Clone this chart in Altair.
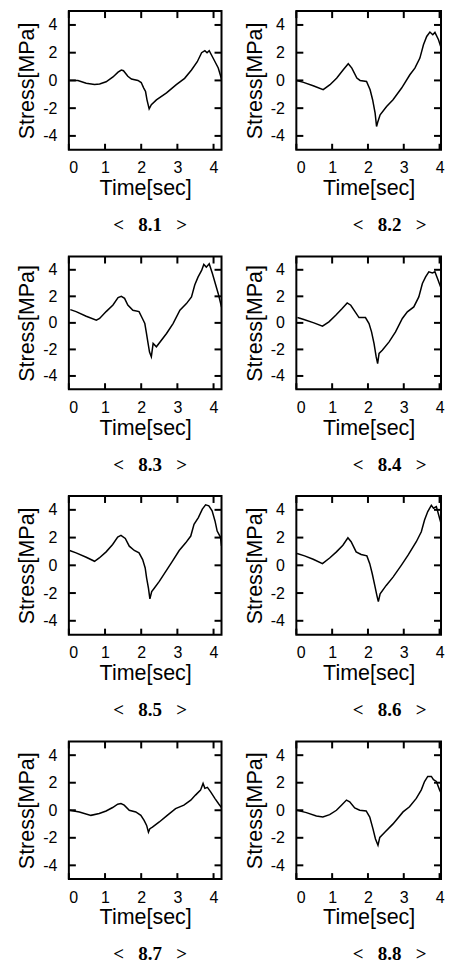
import altair as alt
import pandas as pd

# ---- data (time in sec, stress in MPa) ----
T_8_1 = [0.02, 0.25, 0.48, 0.71, 0.85, 1.03, 1.22, 1.36, 1.45, 1.51, 1.63, 1.73, 1.91, 2.00, 2.07, 2.12, 2.16, 2.22, 2.28, 2.42, 2.70, 2.97, 3.20, 3.39, 3.55, 3.67, 3.76, 3.82, 3.88, 3.99, 4.13, 4.22]
S_8_1 = [0.0, 0.0, -0.2, -0.3, -0.25, -0.1, 0.25, 0.6, 0.75, 0.7, 0.3, 0.1, 0.0, -0.15, -0.55, -0.8, -1.4, -2.05, -1.75, -1.4, -0.9, -0.3, 0.15, 0.75, 1.35, 2.0, 2.15, 2.0, 2.15, 1.6, 0.9, 0.1]

T_8_2 = [0.01, 0.20, 0.47, 0.75, 0.94, 1.13, 1.31, 1.45, 1.55, 1.69, 1.78, 1.96, 2.06, 2.13, 2.20, 2.24, 2.27, 2.34, 2.52, 2.70, 2.94, 3.17, 3.31, 3.45, 3.55, 3.64, 3.73, 3.81, 3.87, 3.97, 4.06, 4.15, 4.22]
S_8_2 = [0.0, -0.14, -0.38, -0.67, -0.31, 0.17, 0.77, 1.2, 0.89, 0.17, 0.0, -0.07, -0.67, -1.39, -2.36, -3.32, -3.03, -2.48, -1.88, -1.39, -0.55, 0.41, 0.89, 1.61, 2.57, 3.17, 3.49, 3.29, 3.46, 2.93, 2.21, 1.49, 0.9]

T_8_3 = [0.04, 0.20, 0.48, 0.76, 0.85, 1.03, 1.22, 1.36, 1.45, 1.54, 1.63, 1.77, 1.94, 2.03, 2.10, 2.14, 2.19, 2.23, 2.28, 2.33, 2.42, 2.70, 2.88, 3.07, 3.25, 3.39, 3.48, 3.57, 3.67, 3.73, 3.80, 3.88, 3.97, 4.06, 4.13, 4.22]
S_8_3 = [1.0, 0.85, 0.5, 0.2, 0.33, 0.85, 1.35, 1.9, 2.0, 1.85, 1.35, 0.95, 0.85, 0.35, -0.05, -0.7, -1.55, -2.2, -2.55, -1.55, -1.8, -0.8, -0.05, 0.95, 1.45, 1.95, 2.85, 3.45, 3.95, 4.4, 4.2, 4.45, 3.7, 2.85, 2.2, 1.2]

T_8_4 = [0.03, 0.21, 0.49, 0.73, 0.91, 1.10, 1.28, 1.42, 1.52, 1.61, 1.75, 1.93, 2.03, 2.10, 2.17, 2.23, 2.27, 2.31, 2.40, 2.59, 2.77, 2.96, 3.10, 3.28, 3.42, 3.52, 3.61, 3.70, 3.80, 3.87, 3.96, 4.06, 4.15, 4.22]
S_8_4 = [0.4, 0.25, 0.0, -0.25, 0.08, 0.58, 1.08, 1.5, 1.33, 0.96, 0.4, 0.4, -0.05, -0.68, -1.56, -2.57, -3.07, -2.3, -2.06, -1.43, -0.68, 0.33, 0.83, 1.2, 1.96, 2.97, 3.47, 3.85, 3.77, 3.85, 3.22, 2.47, 1.84, 1.0]

T_8_5 = [0.02, 0.20, 0.48, 0.71, 0.84, 1.03, 1.21, 1.35, 1.44, 1.56, 1.67, 1.81, 1.94, 2.04, 2.11, 2.15, 2.20, 2.24, 2.29, 2.36, 2.50, 2.68, 2.86, 3.05, 3.23, 3.37, 3.46, 3.58, 3.69, 3.78, 3.87, 3.96, 4.04, 4.10, 4.19, 4.22]
S_8_5 = [1.07, 0.9, 0.58, 0.29, 0.53, 0.97, 1.5, 2.04, 2.16, 1.94, 1.38, 1.07, 0.9, 0.41, -0.19, -0.92, -1.65, -2.42, -1.89, -1.65, -1.16, -0.44, 0.29, 1.07, 1.62, 2.11, 2.96, 3.44, 4.05, 4.36, 4.29, 3.93, 3.2, 2.47, 2.04, 1.4]

T_8_6 = [0.02, 0.23, 0.47, 0.73, 0.93, 1.12, 1.30, 1.44, 1.53, 1.67, 1.81, 1.97, 2.05, 2.12, 2.19, 2.25, 2.29, 2.34, 2.51, 2.70, 2.93, 3.12, 3.35, 3.49, 3.58, 3.67, 3.77, 3.83, 3.91, 4.00, 4.09, 4.19, 4.22]
S_8_6 = [0.85, 0.68, 0.44, 0.12, 0.53, 0.97, 1.45, 1.99, 1.7, 0.97, 0.78, 0.68, 0.12, -0.61, -1.45, -2.18, -2.62, -2.06, -1.45, -0.85, 0.0, 0.73, 1.7, 2.42, 3.27, 3.88, 4.32, 4.12, 4.24, 3.39, 2.55, 2.18, 1.2]

T_8_7 = [0.02, 0.29, 0.61, 0.84, 1.03, 1.21, 1.35, 1.44, 1.53, 1.67, 1.85, 1.99, 2.08, 2.15, 2.20, 2.24, 2.31, 2.50, 2.72, 2.95, 3.18, 3.37, 3.50, 3.64, 3.71, 3.76, 3.83, 3.92, 4.04, 4.15, 4.22]
S_8_7 = [0.0, -0.12, -0.37, -0.24, -0.05, 0.2, 0.44, 0.49, 0.37, 0.0, -0.12, -0.37, -0.73, -1.1, -1.59, -1.34, -1.22, -0.85, -0.37, 0.12, 0.37, 0.73, 1.1, 1.46, 1.95, 1.59, 1.66, 1.34, 0.85, 0.44, 0.2]

T_8_8 = [0.02, 0.28, 0.56, 0.74, 0.93, 1.12, 1.26, 1.40, 1.49, 1.63, 1.77, 1.95, 2.05, 2.14, 2.21, 2.28, 2.33, 2.47, 2.70, 2.98, 3.16, 3.35, 3.49, 3.58, 3.67, 3.77, 3.83, 3.91, 4.00, 4.11, 4.22]
S_8_8 = [0.0, -0.17, -0.42, -0.49, -0.32, 0.0, 0.37, 0.74, 0.62, 0.17, 0.0, -0.05, -0.49, -1.35, -2.09, -2.54, -1.97, -1.6, -0.99, -0.12, 0.25, 0.86, 1.48, 2.09, 2.46, 2.46, 2.22, 2.09, 1.48, 0.86, 0.25]

NB = "\u00a0\u00a0\u00a0"
LABELS = ["<" + NB + v + NB + ">" for v in
          ["8.1", "8.2", "8.3", "8.4", "8.5", "8.6", "8.7", "8.8"]]
SERIES = [(T_8_1, S_8_1), (T_8_2, S_8_2), (T_8_3, S_8_3), (T_8_4, S_8_4),
          (T_8_5, S_8_5), (T_8_6, S_8_6), (T_8_7, S_8_7), (T_8_8, S_8_8)]
X_TICKS = [0, 1, 2, 3, 4]
Y_TICKS = [-4, -2, 0, 2, 4]
X_DOMAINS = [[0, 4.22], [0, 4.04]]   # right column is cut by the page edge
Y_DOMAIN = [-5, 5]

ROW_HEIGHTS = [139, 133, 139, 138]
COL_WIDTHS = [153, 145]
TITLE_DX = [5, 21]
TICK_LEN = 7

SANS = "Liberation Sans"
SERIF = "Liberation Serif"


def panel(t, s, label, w, h, dx, xdom):
    df = pd.DataFrame({"t": t, "s": s})
    xt = pd.DataFrame({"t": X_TICKS})
    yt = pd.DataFrame({"s": Y_TICKS})
    xs = alt.Scale(domain=xdom, nice=False, zero=False)
    ys = alt.Scale(domain=Y_DOMAIN, nice=False, zero=False)
    x_axis = alt.Axis(orient="bottom", values=X_TICKS, title="Time[sec]",
                      labelExpr="'' + datum.value", ticks=False, tickSize=0,
                      labelPadding=10, titlePadding=2)
    y_axis = alt.Axis(orient="left", values=Y_TICKS, title="Stress[MPa]",
                      labelExpr="'' + datum.value", ticks=False, tickSize=0,
                      labelPadding=12, titlePadding=4)
    X = alt.X("t:Q", scale=xs, axis=x_axis)
    Y = alt.Y("s:Q", scale=ys, axis=y_axis)
    line = alt.Chart(df).mark_line(color="black", strokeWidth=1.5, clip=True).encode(
        x=X, y=Y, order="t:Q")
    tick_style = dict(color="black", strokeWidth=2)
    top_ticks = alt.Chart(xt).mark_rule(**tick_style).encode(
        x=X, y=alt.value(0), y2=alt.value(TICK_LEN))
    bottom_ticks = alt.Chart(xt).mark_rule(**tick_style).encode(
        x=X, y=alt.value(h - TICK_LEN + 1), y2=alt.value(h))
    left_ticks = alt.Chart(yt).mark_rule(**tick_style).encode(
        y=Y, x=alt.value(0), x2=alt.value(TICK_LEN))
    right_ticks = alt.Chart(yt).mark_rule(**tick_style).encode(
        y=Y, x=alt.value(w - TICK_LEN), x2=alt.value(w))
    return alt.layer(line, top_ticks, bottom_ticks, left_ticks, right_ticks).properties(
        width=w, height=h,
        title=alt.TitleParams(text=label, orient="bottom", font=SERIF,
                              fontWeight="bold", fontSize=19, color="black",
                              offset=17, dx=dx),
    )


rows = []
for r in range(4):
    cells = []
    for c in range(2):
        i = r * 2 + c
        t, s = SERIES[i]
        cells.append(panel(t, s, LABELS[i], COL_WIDTHS[c], ROW_HEIGHTS[r],
                           TITLE_DX[c], X_DOMAINS[c]))
    rows.append(alt.hconcat(*cells, spacing=19))

chart = alt.vconcat(*rows, spacing=18).properties(
    padding={"left": 7, "top": 0, "right": 0, "bottom": -3},
    background="white",
).configure_view(
    stroke="black", strokeWidth=2
).configure_axis(
    grid=False, domain=False,
    labelFont=SANS, labelFontSize=16, labelColor="black",
    titleFont=SANS, titleFontSize=21.5, titleFontWeight="normal", titleColor="black",
)

chart.save("out.html", embed_options={"renderer": "svg", "actions": False})
